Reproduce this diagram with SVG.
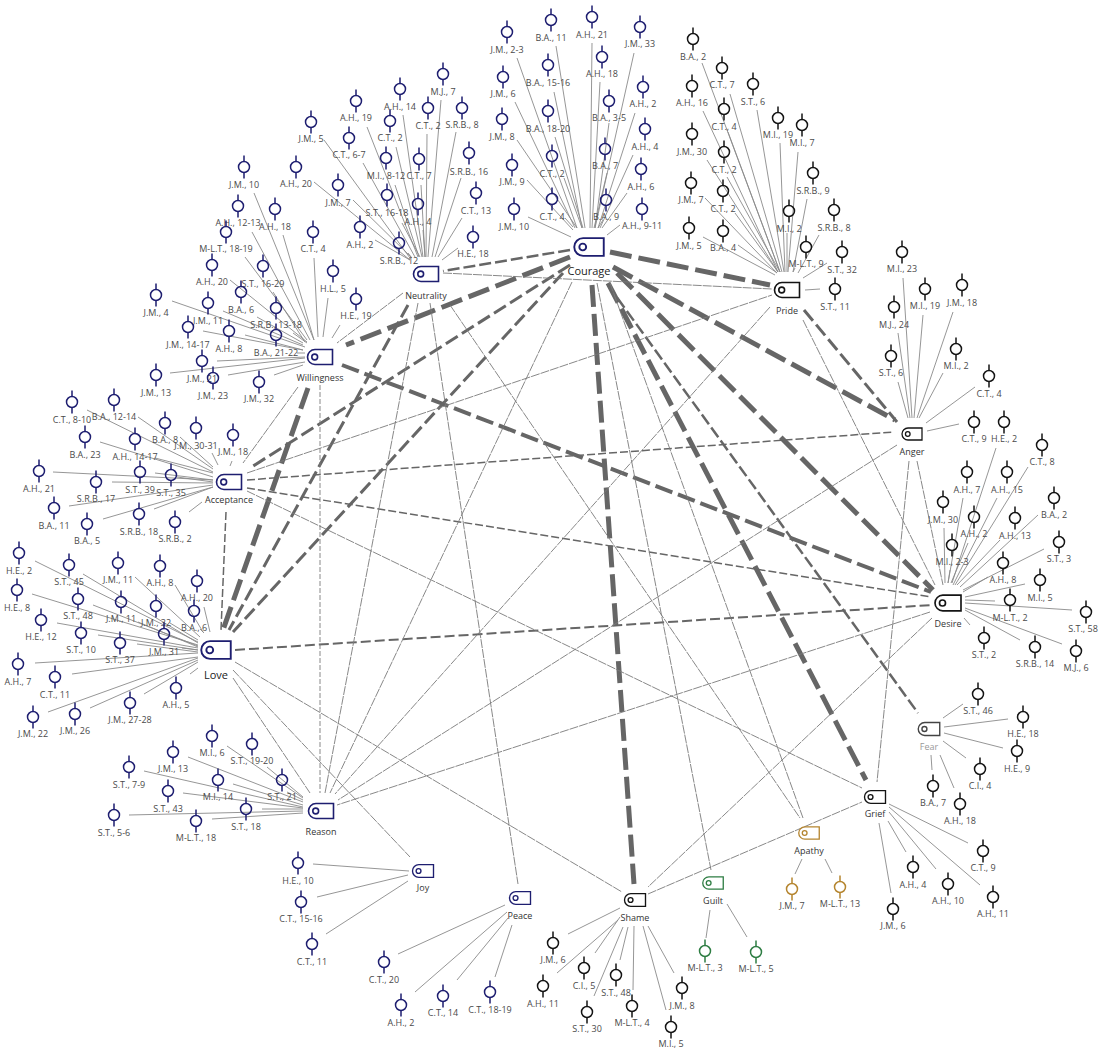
<svg xmlns="http://www.w3.org/2000/svg" width="1099" height="1050" viewBox="0 0 1099 1050">
<style>
text{font-family:"Open Sans","Noto Sans","Liberation Sans",sans-serif;text-anchor:middle;font-size:9px;fill:#4a4a4a}
.nl{fill:#333}
.big{font-size:11px;fill:#222}
.nv{color:#1e1e70}.bk{color:#141414}.or{color:#b5852f}.gr{color:#2e7d43}
#connectors line{stroke:#7a7a7a;fill:none}
#leaf-lines line{stroke:#8a8a8a;stroke-width:.9}
.w5{stroke-width:5;stroke-dasharray:22 7}
.w4{stroke-width:4;stroke-dasharray:18 6}
.w3{stroke-width:3;stroke-dasharray:14 5}
.w25{stroke-width:2.5;stroke-dasharray:12 4}
.w2{stroke-width:2;stroke-dasharray:10 4}
.w16{stroke-width:1.5;stroke-dasharray:8 3}
.w1{stroke-width:.9;stroke-dasharray:9 1}
#connectors .w5,#connectors .w4,#connectors .w3,#connectors .w25,#connectors .w2,#connectors .w16{stroke:#666}
</style>
<defs>
<g id="o" fill="none" stroke="currentColor" stroke-width="1.5"><circle r="5.5"/><path d="M0-11.5V-5.5M0 5.500V11.500"/></g>
<g id="t" fill="none" stroke="currentColor" stroke-width="1.6"><path d="M-5-7.500H12.500V7.500H-5A7.500 7.500 0 0 1-5-7.500Z"/><circle cx="-5.300" r="2.900"/></g>
</defs>
<rect width="1099" height="1050" fill="#fff"/>
<g id="connectors">
<g id="leaf-lines">
<line x1="87" y1="410" x2="213" y2="472"/><line x1="138" y1="417" x2="213" y2="469"/><line x1="180" y1="437" x2="213" y2="467"/><line x1="212" y1="453" x2="218" y2="465"/><line x1="232" y1="461" x2="230" y2="466"/><line x1="100" y1="442" x2="213" y2="477"/><line x1="155" y1="458" x2="213" y2="473"/><line x1="53" y1="472" x2="213" y2="480"/><line x1="155" y1="473" x2="213" y2="480"/><line x1="177" y1="477" x2="213" y2="482"/><line x1="112" y1="482" x2="213" y2="483"/><line x1="69" y1="506" x2="213" y2="485"/><line x1="154" y1="509" x2="213" y2="487"/><line x1="103" y1="519" x2="213" y2="487"/><line x1="189" y1="512" x2="202" y2="502"/>
<line x1="35" y1="561" x2="198" y2="642"/><line x1="83" y1="574" x2="198" y2="643"/><line x1="135" y1="577" x2="200" y2="637"/><line x1="175" y1="585" x2="203" y2="632"/><line x1="204" y1="607" x2="210" y2="632"/><line x1="32" y1="594" x2="198" y2="645"/><line x1="93" y1="605" x2="198" y2="646"/><line x1="138" y1="622" x2="198" y2="647"/><line x1="170" y1="623" x2="198" y2="640"/><line x1="200" y1="629" x2="204" y2="633"/><line x1="57" y1="623" x2="198" y2="648"/><line x1="98" y1="635" x2="198" y2="650"/><line x1="182" y1="648" x2="198" y2="650"/><line x1="137" y1="644" x2="198" y2="652"/><line x1="35" y1="663" x2="198" y2="653"/><line x1="72" y1="674" x2="198" y2="657"/><line x1="48" y1="712" x2="198" y2="658"/><line x1="90" y1="708" x2="198" y2="660"/><line x1="144" y1="694" x2="198" y2="662"/><line x1="190" y1="674" x2="198" y2="668"/>
<line x1="254" y1="193" x2="314" y2="340"/><line x1="252" y1="232" x2="310" y2="340"/><line x1="283" y1="235" x2="314" y2="340"/><line x1="245" y1="257" x2="307" y2="340"/><line x1="314" y1="258" x2="318" y2="337"/><line x1="328" y1="298" x2="323" y2="337"/><line x1="340" y1="325" x2="332" y2="338"/><line x1="230" y1="280" x2="307" y2="342"/><line x1="273" y1="292" x2="305" y2="342"/><line x1="257" y1="317" x2="303" y2="343"/><line x1="172" y1="301" x2="305" y2="347"/><line x1="223" y1="311" x2="303" y2="345"/><line x1="293" y1="333" x2="307" y2="343"/><line x1="203" y1="331" x2="303" y2="350"/><line x1="245" y1="335" x2="303" y2="350"/><line x1="297" y1="353" x2="305" y2="353"/><line x1="217" y1="361" x2="305" y2="357"/><line x1="170" y1="373" x2="305" y2="358"/><line x1="228" y1="375" x2="305" y2="362"/><line x1="274" y1="375" x2="303" y2="365"/>
<line x1="314" y1="182" x2="410" y2="260"/><line x1="324" y1="140" x2="410" y2="258"/><line x1="367" y1="127" x2="418" y2="257"/><line x1="403" y1="115" x2="423" y2="257"/><line x1="441" y1="100" x2="428" y2="257"/><line x1="427" y1="134" x2="426" y2="257"/><line x1="456" y1="132" x2="432" y2="257"/><line x1="396" y1="147" x2="422" y2="257"/><line x1="363" y1="163" x2="415" y2="257"/><line x1="461" y1="178" x2="435" y2="257"/><line x1="395" y1="185" x2="419" y2="257"/><line x1="421" y1="185" x2="425" y2="257"/><line x1="353" y1="200" x2="412" y2="258"/><line x1="462" y1="218" x2="438" y2="257"/><line x1="402" y1="223" x2="420" y2="257"/><line x1="423" y1="230" x2="425" y2="257"/><line x1="375" y1="240" x2="410" y2="260"/><line x1="458" y1="248" x2="442" y2="260"/><line x1="408" y1="253" x2="412" y2="258"/>
<line x1="517" y1="58" x2="577" y2="228"/><line x1="556" y1="46" x2="585" y2="228"/><line x1="592" y1="43" x2="590" y2="228"/><line x1="634" y1="53" x2="595" y2="228"/><line x1="554" y1="92" x2="582" y2="228"/><line x1="515" y1="102" x2="575" y2="228"/><line x1="600" y1="82" x2="592" y2="228"/><line x1="635" y1="113" x2="598" y2="228"/><line x1="609" y1="123" x2="595" y2="228"/><line x1="517" y1="140" x2="577" y2="228"/><line x1="555" y1="137" x2="583" y2="228"/><line x1="633" y1="155" x2="600" y2="228"/><line x1="607" y1="173" x2="594" y2="228"/><line x1="564" y1="178" x2="582" y2="228"/><line x1="527" y1="180" x2="573" y2="230"/><line x1="627" y1="193" x2="602" y2="228"/><line x1="565" y1="218" x2="573" y2="227"/><line x1="603" y1="220" x2="598" y2="228"/><line x1="620" y1="225" x2="607" y2="235"/><line x1="528" y1="217" x2="571" y2="237"/>
<line x1="702" y1="63" x2="780" y2="272"/><line x1="730" y1="94" x2="782" y2="272"/><line x1="757" y1="110" x2="784" y2="272"/><line x1="703" y1="111" x2="778" y2="272"/><line x1="728" y1="132" x2="780" y2="272"/><line x1="780" y1="143" x2="785" y2="272"/><line x1="798" y1="152" x2="788" y2="272"/><line x1="707" y1="160" x2="778" y2="272"/><line x1="727" y1="177" x2="780" y2="272"/><line x1="807" y1="199" x2="793" y2="272"/><line x1="705" y1="198" x2="777" y2="273"/><line x1="735" y1="213" x2="778" y2="272"/><line x1="787" y1="233" x2="787" y2="272"/><line x1="819" y1="235" x2="798" y2="273"/><line x1="703" y1="237" x2="775" y2="275"/><line x1="738" y1="245" x2="777" y2="273"/><line x1="795" y1="268" x2="793" y2="272"/><line x1="827" y1="263" x2="803" y2="278"/><line x1="820" y1="289" x2="805" y2="290"/>
<line x1="903" y1="278" x2="912" y2="418"/><line x1="923" y1="315" x2="914" y2="418"/><line x1="953" y1="312" x2="917" y2="418"/><line x1="898" y1="333" x2="910" y2="418"/><line x1="898" y1="382" x2="908" y2="418"/><line x1="943" y1="373" x2="919" y2="418"/><line x1="975" y1="387" x2="926" y2="423"/><line x1="959" y1="424" x2="927" y2="431"/>
<line x1="996" y1="448" x2="952" y2="583"/><line x1="1028" y1="467" x2="955" y2="585"/><line x1="963" y1="498" x2="948" y2="583"/><line x1="997" y1="498" x2="953" y2="585"/><line x1="944" y1="528" x2="945" y2="583"/><line x1="968" y1="543" x2="951" y2="583"/><line x1="1038" y1="515" x2="960" y2="587"/><line x1="1000" y1="540" x2="957" y2="585"/><line x1="1044" y1="549" x2="963" y2="590"/><line x1="950" y1="570" x2="948" y2="583"/><line x1="988" y1="577" x2="963" y2="592"/><line x1="1025" y1="584" x2="965" y2="597"/><line x1="995" y1="601" x2="965" y2="600"/><line x1="1072" y1="610" x2="965" y2="603"/><line x1="1062" y1="644" x2="965" y2="608"/><line x1="1020" y1="640" x2="965" y2="610"/><line x1="970" y1="625" x2="964" y2="618"/>
<line x1="963" y1="704" x2="943" y2="718"/><line x1="1008" y1="719" x2="944" y2="727"/><line x1="1003" y1="748" x2="944" y2="733"/><line x1="966" y1="758" x2="943" y2="741"/><line x1="932" y1="770" x2="931" y2="755"/><line x1="954" y1="788" x2="940" y2="755"/>
<line x1="968" y1="843" x2="889" y2="804"/><line x1="906" y1="852" x2="888" y2="821"/><line x1="936" y1="869" x2="889" y2="812"/><line x1="980" y1="885" x2="889" y2="807"/><line x1="891" y1="893" x2="879" y2="823"/>
<line x1="795" y1="874" x2="802" y2="859"/><line x1="832" y1="873" x2="825" y2="859"/><line x1="706" y1="938" x2="710" y2="910"/><line x1="747" y1="937" x2="727" y2="904"/>
<line x1="568" y1="934" x2="620" y2="908"/><line x1="595" y1="953" x2="620" y2="917"/><line x1="557" y1="973" x2="618" y2="920"/><line x1="620" y1="960" x2="628" y2="927"/><line x1="594" y1="996" x2="623" y2="927"/><line x1="633" y1="990" x2="634" y2="926"/><line x1="674" y1="973" x2="648" y2="926"/><line x1="666" y1="1010" x2="643" y2="926"/>
<line x1="398" y1="954" x2="505" y2="905"/><line x1="415" y1="992" x2="507" y2="912"/><line x1="457" y1="980" x2="508" y2="918"/><line x1="495" y1="977" x2="512" y2="925"/>
<line x1="313" y1="864" x2="409" y2="871"/><line x1="317" y1="897" x2="408" y2="875"/><line x1="326" y1="934" x2="408" y2="881"/>
<line x1="227" y1="746" x2="303" y2="798"/><line x1="267" y1="767" x2="303" y2="797"/><line x1="188" y1="757" x2="303" y2="802"/><line x1="144" y1="771" x2="303" y2="807"/><line x1="233" y1="784" x2="303" y2="805"/><line x1="287" y1="792" x2="303" y2="800"/><line x1="183" y1="793" x2="303" y2="808"/><line x1="262" y1="809" x2="303" y2="809"/><line x1="129" y1="815" x2="303" y2="811"/><line x1="212" y1="819" x2="303" y2="813"/>
</g>
<g id="edges">
<line class="w5" x1="570" y1="257" x2="346" y2="345"/><line class="w5" x1="610" y1="252" x2="770" y2="285"/><line class="w5" x1="613" y1="267" x2="895" y2="420"/><line class="w5" x1="617" y1="273" x2="933" y2="590"/><line class="w5" x1="592" y1="285" x2="634" y2="884"/><line class="w5" x1="608" y1="283" x2="866" y2="780"/><line class="w5" x1="308" y1="388" x2="223" y2="630"/><line class="w4" x1="342" y1="365" x2="931" y2="592"/><line class="w25" x1="570" y1="250" x2="443" y2="271"/><line class="w3" x1="570" y1="265" x2="250" y2="468"/><line class="w3" x1="563" y1="273" x2="233" y2="632"/><line class="w3" x1="408" y1="305" x2="229" y2="630"/><line class="w25" x1="608" y1="285" x2="918" y2="713"/><line class="w3" x1="804" y1="310" x2="897" y2="422"/><line class="w16" x1="247" y1="480" x2="893" y2="432"/><line class="w16" x1="247" y1="488" x2="931" y2="597"/><line class="w2" x1="235" y1="650" x2="932" y2="605"/><line class="w16" x1="226" y1="512" x2="221" y2="630"/>
<line class="w1" x1="403" y1="293" x2="337" y2="343"/><line class="w1" x1="443" y1="273" x2="772" y2="289"/><line class="w1" x1="298" y1="387" x2="243" y2="463"/><line class="w1" style="stroke-dasharray:5 2" x1="320" y1="385" x2="320" y2="793"/><line class="w1" x1="418" y1="303" x2="325" y2="793"/><line class="w1" x1="430" y1="303" x2="518" y2="884"/><line class="w1" x1="450" y1="305" x2="800" y2="818"/><line class="w1" x1="610" y1="283" x2="803" y2="818"/><line class="w1" x1="572" y1="282" x2="330" y2="793"/><line class="w1" x1="597" y1="283" x2="711" y2="870"/><line class="w1" x1="770" y1="307" x2="335" y2="794"/><line class="w1" x1="897" y1="445" x2="338" y2="800"/><line class="w1" x1="930" y1="612" x2="337" y2="805"/><line class="w1" x1="247" y1="473" x2="772" y2="295"/><line class="w1" x1="247" y1="491" x2="862" y2="788"/><line class="w1" x1="233" y1="678" x2="310" y2="793"/><line class="w1" x1="233" y1="670" x2="410" y2="857"/><line class="w1" x1="235" y1="662" x2="622" y2="892"/><line class="w1" x1="932" y1="618" x2="648" y2="887"/><line class="w1" x1="648" y1="894" x2="862" y2="802"/><line class="w1" x1="803" y1="320" x2="935" y2="585"/><line class="w1" x1="917" y1="461" x2="943" y2="585"/><line class="w1" x1="909" y1="461" x2="877" y2="782"/>
</g>
</g>
<g id="node-acceptance" class="nv" transform="translate(229,482)"><use href="#t"/><text class="nl" y="21">Acceptance</text></g>
<g id="node-love" class="nv" transform="translate(216,650)"><use href="#t" transform="scale(1.18)"/><text class="nl big" x="0" y="29">Love</text></g>
<g id="node-courage" class="nv" transform="translate(589,247)"><use href="#t" transform="scale(1.18)"/><text class="nl big" y="28">Courage</text></g>
<g id="node-neutrality" class="nv" transform="translate(426,274)"><use href="#t"/><text class="nl" y="25">Neutrality</text></g>
<g id="node-willingness" class="nv" transform="translate(320,357)"><use href="#t"/><text class="nl" y="24">Willingness</text></g>
<g id="node-reason" class="nv" transform="translate(321,811)"><use href="#t"/><text class="nl" y="24">Reason</text></g>
<g id="node-joy" class="nv" transform="translate(423,871)"><use href="#t" transform="scale(.84)"/><text class="nl" y="20">Joy</text></g>
<g id="node-peace" class="nv" transform="translate(520,898)"><use href="#t" transform="scale(.84)"/><text class="nl" y="21">Peace</text></g>
<g id="node-pride" class="bk" transform="translate(787,290)"><use href="#t"/><text class="nl" y="24">Pride</text></g>
<g id="node-anger" class="bk" transform="translate(912,434)"><use href="#t" transform="scale(.8)"/><text class="nl" y="21">Anger</text></g>
<g id="node-desire" class="bk" transform="translate(948,603)"><use href="#t" transform="scale(1.04)"/><text class="nl" y="24">Desire</text></g>
<g id="node-fear" style="color:#444" transform="translate(929,729)"><use href="#t" transform="scale(.86)"/><text style="fill:#999" y="21">Fear</text></g>
<g id="node-grief" class="bk" transform="translate(875,797)"><use href="#t" transform="scale(.84)"/><text class="nl" y="20">Grief</text></g>
<g id="node-shame" class="bk" transform="translate(635,900)"><use href="#t" transform="scale(.84)"/><text class="nl" y="21">Shame</text></g>
<g id="node-apathy" class="or" transform="translate(809,833)"><use href="#t" transform="scale(.82)"/><text class="nl" y="21">Apathy</text></g>
<g id="node-guilt" class="gr" transform="translate(713,883)"><use href="#t" transform="scale(.82)"/><text class="nl" y="21">Guilt</text></g>
<g id="acceptance-leaves" class="nv">
<g id="ac1" transform="translate(72,402)"><use href="#o"/><text y="21">C.T., 8-10</text></g>
<g id="ac2" transform="translate(114,400)"><use href="#o"/><text y="20">B.A., 12-14</text></g>
<g id="ac3" transform="translate(165,423)"><use href="#o"/><text y="20">B.A., 8</text></g>
<g id="ac4" transform="translate(196,428)"><use href="#o"/><text y="21">J.M., 30-31</text></g>
<g id="ac5" transform="translate(233,435)"><use href="#o"/><text y="20">J.M., 18</text></g>
<g id="ac6" transform="translate(85,437)"><use href="#o"/><text y="21">B.A., 23</text></g>
<g id="ac7" transform="translate(135,439)"><use href="#o"/><text y="21">A.H., 14-17</text></g>
<g id="ac8" transform="translate(39,471)"><use href="#o"/><text y="21">A.H., 21</text></g>
<g id="ac9" transform="translate(140,472)"><use href="#o"/><text y="21">S.T., 39</text></g>
<g id="ac10" transform="translate(171,475)"><use href="#o"/><text y="21">S.T., 35</text></g>
<g id="ac11" transform="translate(96,482)"><use href="#o"/><text y="20">S.R.B., 17</text></g>
<g id="ac12" transform="translate(54,508)"><use href="#o"/><text y="21">B.A., 11</text></g>
<g id="ac13" transform="translate(139,514)"><use href="#o"/><text y="21">S.R.B., 18</text></g>
<g id="ac14" transform="translate(87,524)"><use href="#o"/><text y="20">B.A., 5</text></g>
<g id="ac15" transform="translate(175,522)"><use href="#o"/><text y="20">S.R.B., 2</text></g>
</g>
<g id="love-leaves" class="nv">
<g id="lo1" transform="translate(19,553)"><use href="#o"/><text y="21">H.E., 2</text></g>
<g id="lo2" transform="translate(69,565)"><use href="#o"/><text y="20">S.T., 45</text></g>
<g id="lo3" transform="translate(118,563)"><use href="#o"/><text y="20">J.M., 11</text></g>
<g id="lo4" transform="translate(160,566)"><use href="#o"/><text y="20">A.H., 8</text></g>
<g id="lo5" transform="translate(197,581)"><use href="#o"/><text y="20">A.H., 20</text></g>
<g id="lo6" transform="translate(17,590)"><use href="#o"/><text y="21">H.E., 8</text></g>
<g id="lo7" transform="translate(78,599)"><use href="#o"/><text y="20">S.T., 48</text></g>
<g id="lo8" transform="translate(121,602)"><use href="#o"/><text y="20">J.M., 11</text></g>
<g id="lo9" transform="translate(156,606)"><use href="#o"/><text y="20">J.M., 32</text></g>
<g id="lo10" transform="translate(194,611)"><use href="#o"/><text y="20">B.A., 6</text></g>
<g id="lo11" transform="translate(41,620)"><use href="#o"/><text y="20">H.E., 12</text></g>
<g id="lo12" transform="translate(81,633)"><use href="#o"/><text y="20">S.T., 10</text></g>
<g id="lo13" transform="translate(164,634)"><use href="#o"/><text y="21">J.M., 31</text></g>
<g id="lo14" transform="translate(120,643)"><use href="#o"/><text y="20">S.T., 37</text></g>
<g id="lo15" transform="translate(18,664)"><use href="#o"/><text y="21">A.H., 7</text></g>
<g id="lo16" transform="translate(55,677)"><use href="#o"/><text y="21">C.T., 11</text></g>
<g id="lo17" transform="translate(33,717)"><use href="#o"/><text y="20">J.M., 22</text></g>
<g id="lo18" transform="translate(75,714)"><use href="#o"/><text y="20">J.M., 26</text></g>
<g id="lo19" transform="translate(130,703)"><use href="#o"/><text y="20">J.M., 27-28</text></g>
<g id="lo20" transform="translate(176,688)"><use href="#o"/><text y="20">A.H., 5</text></g>
</g>
<g id="willingness-leaves" class="nv">
<g id="wi1" transform="translate(244,167)"><use href="#o"/><text y="21">J.M., 10</text></g>
<g id="wi2" transform="translate(238,206)"><use href="#o"/><text y="20">A.H., 12-13</text></g>
<g id="wi3" transform="translate(275,209)"><use href="#o"/><text y="21">A.H., 18</text></g>
<g id="wi4" transform="translate(226,232)"><use href="#o"/><text y="20">M-L.T., 18-19</text></g>
<g id="wi5" transform="translate(313,232)"><use href="#o"/><text y="20">C.T., 4</text></g>
<g id="wi6" transform="translate(333,271)"><use href="#o"/><text y="21">H.L., 5</text></g>
<g id="wi7" transform="translate(356,299)"><use href="#o"/><text y="20">H.E., 19</text></g>
<g id="wi8" transform="translate(212,265)"><use href="#o"/><text y="20">A.H., 20</text></g>
<g id="wi9" transform="translate(263,266)"><use href="#o"/><text y="21">S.T., 16-29</text></g>
<g id="wi10" transform="translate(241,292)"><use href="#o"/><text y="21">B.A., 6</text></g>
<g id="wi11" transform="translate(156,295)"><use href="#o"/><text y="21">J.M., 4</text></g>
<g id="wi12" transform="translate(208,303)"><use href="#o"/><text y="21">J.M., 11</text></g>
<g id="wi13" transform="translate(276,308)"><use href="#o"/><text y="20">S.R.B., 13-18</text></g>
<g id="wi14" transform="translate(188,327)"><use href="#o"/><text y="21">J.M., 14-17</text></g>
<g id="wi15" transform="translate(229,331)"><use href="#o"/><text y="21">A.H., 8</text></g>
<g id="wi16" transform="translate(276,335)"><use href="#o"/><text y="21">B.A., 21-22</text></g>
<g id="wi17" transform="translate(202,361)"><use href="#o"/><text y="21">J.M., 21</text></g>
<g id="wi18" transform="translate(156,375)"><use href="#o"/><text y="21">J.M., 13</text></g>
<g id="wi19" transform="translate(213,378)"><use href="#o"/><text y="21">J.M., 23</text></g>
<g id="wi20" transform="translate(259,382)"><use href="#o"/><text y="20">J.M., 32</text></g>
</g>
<g id="neutrality-leaves" class="nv">
<g id="ne1" transform="translate(296,167)"><use href="#o"/><text y="20">A.H., 20</text></g>
<g id="ne2" transform="translate(311,122)"><use href="#o"/><text y="20">J.M., 5</text></g>
<g id="ne3" transform="translate(356,101)"><use href="#o"/><text y="20">A.H., 19</text></g>
<g id="ne4" transform="translate(400,89)"><use href="#o"/><text y="21">A.H., 14</text></g>
<g id="ne5" transform="translate(443,74)"><use href="#o"/><text y="21">M.J., 7</text></g>
<g id="ne6" transform="translate(428,108)"><use href="#o"/><text y="21">C.T., 2</text></g>
<g id="ne7" transform="translate(462,108)"><use href="#o"/><text y="20">S.R.B., 8</text></g>
<g id="ne8" transform="translate(390,121)"><use href="#o"/><text y="20">C.T., 2</text></g>
<g id="ne9" transform="translate(349,138)"><use href="#o"/><text y="20">C.T., 6-7</text></g>
<g id="ne10" transform="translate(469,153)"><use href="#o"/><text y="22">S.R.B., 16</text></g>
<g id="ne11" transform="translate(386,158)"><use href="#o"/><text y="21">M.I., 8-12</text></g>
<g id="ne12" transform="translate(419,159)"><use href="#o"/><text y="20">C.T., 7</text></g>
<g id="ne13" transform="translate(338,185)"><use href="#o"/><text y="21">J.M., 7</text></g>
<g id="ne14" transform="translate(476,193)"><use href="#o"/><text y="21">C.T., 13</text></g>
<g id="ne15" transform="translate(387,195)"><use href="#o"/><text y="21">S.T., 16-18</text></g>
<g id="ne16" transform="translate(418,204)"><use href="#o"/><text y="21">A.H., 4</text></g>
<g id="ne17" transform="translate(360,227)"><use href="#o"/><text y="21">A.H., 2</text></g>
<g id="ne18" transform="translate(473,237)"><use href="#o"/><text y="20">H.E., 18</text></g>
<g id="ne19" transform="translate(399,243)"><use href="#o"/><text y="21">S.R.B., 12</text></g>
</g>
<g id="courage-leaves" class="nv">
<g id="co1" transform="translate(507,32)"><use href="#o"/><text y="21">J.M., 2-3</text></g>
<g id="co2" transform="translate(551,20)"><use href="#o"/><text y="21">B.A., 11</text></g>
<g id="co3" transform="translate(592,17)"><use href="#o"/><text y="21">A.H., 21</text></g>
<g id="co4" transform="translate(640,27)"><use href="#o"/><text y="20">J.M., 33</text></g>
<g id="co5" transform="translate(548,65)"><use href="#o"/><text y="21">B.A., 15-16</text></g>
<g id="co6" transform="translate(503,77)"><use href="#o"/><text y="20">J.M., 6</text></g>
<g id="co7" transform="translate(602,57)"><use href="#o"/><text y="20">A.H., 18</text></g>
<g id="co8" transform="translate(643,87)"><use href="#o"/><text y="20">A.H., 2</text></g>
<g id="co9" transform="translate(609,101)"><use href="#o"/><text y="20">B.A., 3-5</text></g>
<g id="co10" transform="translate(502,119)"><use href="#o"/><text y="21">J.M., 8</text></g>
<g id="co11" transform="translate(548,111)"><use href="#o"/><text y="21">B.A., 18-20</text></g>
<g id="co12" transform="translate(645,129)"><use href="#o"/><text y="21">A.H., 4</text></g>
<g id="co13" transform="translate(605,149)"><use href="#o"/><text y="20">B.A., 7</text></g>
<g id="co14" transform="translate(552,156)"><use href="#o"/><text y="21">C.T., 2</text></g>
<g id="co15" transform="translate(512,165)"><use href="#o"/><text y="20">J.M., 9</text></g>
<g id="co16" transform="translate(641,169)"><use href="#o"/><text y="21">A.H., 6</text></g>
<g id="co17" transform="translate(552,199)"><use href="#o"/><text y="21">C.T., 4</text></g>
<g id="co18" transform="translate(606,200)"><use href="#o"/><text y="20">B.A., 9</text></g>
<g id="co19" transform="translate(642,209)"><use href="#o"/><text y="20">A.H., 9-11</text></g>
<g id="co20" transform="translate(514,209)"><use href="#o"/><text y="21">J.M., 10</text></g>
</g>
<g id="reason-leaves" class="nv">
<g id="re1" transform="translate(212,736)"><use href="#o"/><text y="20">M.I., 6</text></g>
<g id="re2" transform="translate(252,744)"><use href="#o"/><text y="20">S.T., 19-20</text></g>
<g id="re3" transform="translate(173,752)"><use href="#o"/><text y="20">J.M., 13</text></g>
<g id="re4" transform="translate(129,767)"><use href="#o"/><text y="21">S.T., 7-9</text></g>
<g id="re5" transform="translate(218,780)"><use href="#o"/><text y="20">M.I., 14</text></g>
<g id="re6" transform="translate(282,780)"><use href="#o"/><text y="20">S.T., 21</text></g>
<g id="re7" transform="translate(168,791)"><use href="#o"/><text y="21">S.T., 43</text></g>
<g id="re8" transform="translate(246,809)"><use href="#o"/><text y="21">S.T., 18</text></g>
<g id="re9" transform="translate(114,815)"><use href="#o"/><text y="21">S.T., 5-6</text></g>
<g id="re10" transform="translate(196,821)"><use href="#o"/><text y="20">M-L.T., 18</text></g>
</g>
<g id="joy-leaves" class="nv">
<g id="jo1" transform="translate(298,863)"><use href="#o"/><text y="21">H.E., 10</text></g>
<g id="jo2" transform="translate(301,902)"><use href="#o"/><text y="20">C.T., 15-16</text></g>
<g id="jo3" transform="translate(312,944)"><use href="#o"/><text y="21">C.T., 11</text></g>
</g>
<g id="peace-leaves" class="nv">
<g id="pe1" transform="translate(384,962)"><use href="#o"/><text y="21">C.T., 20</text></g>
<g id="pe2" transform="translate(401,1005)"><use href="#o"/><text y="21">A.H., 2</text></g>
<g id="pe3" transform="translate(443,996)"><use href="#o"/><text y="20">C.T., 14</text></g>
<g id="pe4" transform="translate(490,992)"><use href="#o"/><text y="21">C.T., 18-19</text></g>
</g>
<g id="pride-leaves" class="bk">
<g id="pr1" transform="translate(693,39)"><use href="#o"/><text y="21">B.A., 2</text></g>
<g id="pr2" transform="translate(722,68)"><use href="#o"/><text y="20">C.T., 7</text></g>
<g id="pr3" transform="translate(753,84)"><use href="#o"/><text y="21">S.T., 6</text></g>
<g id="pr4" transform="translate(692,86)"><use href="#o"/><text y="20">A.H., 16</text></g>
<g id="pr5" transform="translate(724,109)"><use href="#o"/><text y="21">C.T., 4</text></g>
<g id="pr6" transform="translate(778,118)"><use href="#o"/><text y="20">M.I., 19</text></g>
<g id="pr7" transform="translate(802,125)"><use href="#o"/><text y="21">M.I., 7</text></g>
<g id="pr8" transform="translate(692,134)"><use href="#o"/><text y="21">J.M., 30</text></g>
<g id="pr9" transform="translate(724,152)"><use href="#o"/><text y="21">C.T., 2</text></g>
<g id="pr10" transform="translate(813,173)"><use href="#o"/><text y="21">S.R.B., 9</text></g>
<g id="pr11" transform="translate(691,183)"><use href="#o"/><text y="20">J.M., 7</text></g>
<g id="pr12" transform="translate(723,191)"><use href="#o"/><text y="21">C.T., 2</text></g>
<g id="pr13" transform="translate(789,211)"><use href="#o"/><text y="21">M.I., 2</text></g>
<g id="pr14" transform="translate(834,210)"><use href="#o"/><text y="21">S.R.B., 8</text></g>
<g id="pr15" transform="translate(689,228)"><use href="#o"/><text y="21">J.M., 5</text></g>
<g id="pr16" transform="translate(723,231)"><use href="#o"/><text y="20">B.A., 4</text></g>
<g id="pr17" transform="translate(806,247)"><use href="#o"/><text y="20">M-L.T., 9</text></g>
<g id="pr18" transform="translate(842,252)"><use href="#o"/><text y="21">S.T., 32</text></g>
<g id="pr19" transform="translate(835,289)"><use href="#o"/><text y="21">S.T., 11</text></g>
</g>
<g id="anger-leaves" class="bk">
<g id="an1" transform="translate(902,252)"><use href="#o"/><text y="20">M.I., 23</text></g>
<g id="an2" transform="translate(925,289)"><use href="#o"/><text y="20">M.I., 19</text></g>
<g id="an3" transform="translate(962,285)"><use href="#o"/><text y="21">J.M., 18</text></g>
<g id="an4" transform="translate(894,307)"><use href="#o"/><text y="21">M.J., 24</text></g>
<g id="an5" transform="translate(891,356)"><use href="#o"/><text y="20">S.T., 6</text></g>
<g id="an6" transform="translate(956,349)"><use href="#o"/><text y="20">M.I., 2</text></g>
<g id="an7" transform="translate(989,376)"><use href="#o"/><text y="21">C.T., 4</text></g>
<g id="an8" transform="translate(974,422)"><use href="#o"/><text y="20">C.T., 9</text></g>
</g>
<g id="desire-leaves" class="bk">
<g id="de1" transform="translate(1004,422)"><use href="#o"/><text y="20">H.E., 2</text></g>
<g id="de2" transform="translate(1042,445)"><use href="#o"/><text y="20">C.T., 8</text></g>
<g id="de3" transform="translate(967,472)"><use href="#o"/><text y="21">A.H., 7</text></g>
<g id="de4" transform="translate(1007,472)"><use href="#o"/><text y="21">A.H., 15</text></g>
<g id="de5" transform="translate(943,502)"><use href="#o"/><text y="21">J.M., 30</text></g>
<g id="de6" transform="translate(974,517)"><use href="#o"/><text y="20">A.H., 2</text></g>
<g id="de7" transform="translate(1054,498)"><use href="#o"/><text y="20">B.A., 2</text></g>
<g id="de8" transform="translate(1015,518)"><use href="#o"/><text y="21">A.H., 13</text></g>
<g id="de9" transform="translate(1059,542)"><use href="#o"/><text y="20">S.T., 3</text></g>
<g id="de10" transform="translate(952,545)"><use href="#o"/><text y="20">M.I., 2-3</text></g>
<g id="de11" transform="translate(1003,563)"><use href="#o"/><text y="20">A.H., 8</text></g>
<g id="de12" transform="translate(1040,580)"><use href="#o"/><text y="21">M.I., 5</text></g>
<g id="de13" transform="translate(1010,600)"><use href="#o"/><text y="21">M-L.T., 2</text></g>
<g id="de14" transform="translate(1086,612)"><use href="#o"/><text x="-3" y="20">S.T., 58</text></g>
<g id="de15" transform="translate(1076,651)"><use href="#o"/><text y="20">M.J., 6</text></g>
<g id="de16" transform="translate(1035,647)"><use href="#o"/><text y="20">S.R.B., 14</text></g>
<g id="de17" transform="translate(984,638)"><use href="#o"/><text y="20">S.T., 2</text></g>
</g>
<g id="fear-leaves" class="bk">
<g id="fe1" transform="translate(978,694)"><use href="#o"/><text y="20">S.T., 46</text></g>
<g id="fe2" transform="translate(1023,717)"><use href="#o"/><text y="20">H.E., 18</text></g>
<g id="fe3" transform="translate(1017,751)"><use href="#o"/><text y="21">H.E., 9</text></g>
<g id="fe4" transform="translate(980,769)"><use href="#o"/><text y="20">C.I., 4</text></g>
<g id="fe5" transform="translate(933,786)"><use href="#o"/><text y="20">B.A., 7</text></g>
<g id="fe6" transform="translate(960,804)"><use href="#o"/><text y="20">A.H., 18</text></g>
</g>
<g id="grief-leaves" class="bk">
<g id="gf1" transform="translate(983,851)"><use href="#o"/><text y="20">C.T., 9</text></g>
<g id="gf2" transform="translate(913,867)"><use href="#o"/><text y="21">A.H., 4</text></g>
<g id="gf3" transform="translate(948,884)"><use href="#o"/><text y="20">A.H., 10</text></g>
<g id="gf4" transform="translate(993,897)"><use href="#o"/><text y="20">A.H., 11</text></g>
<g id="gf5" transform="translate(893,909)"><use href="#o"/><text y="20">J.M., 6</text></g>
</g>
<g id="apathy-leaves" class="or">
<g id="ap1" transform="translate(792,889)"><use href="#o"/><text y="20">J.M., 7</text></g>
<g id="ap2" transform="translate(840,887)"><use href="#o"/><text y="20">M-L.T., 13</text></g>
</g>
<g id="guilt-leaves" class="gr">
<g id="gu1" transform="translate(705,951)"><use href="#o"/><text y="20">M-L.T., 3</text></g>
<g id="gu2" transform="translate(756,952)"><use href="#o"/><text y="20">M-L.T., 5</text></g>
</g>
<g id="shame-leaves" class="bk">
<g id="sh1" transform="translate(553,943)"><use href="#o"/><text y="20">J.M., 6</text></g>
<g id="sh2" transform="translate(584,968)"><use href="#o"/><text y="21">C.I., 5</text></g>
<g id="sh3" transform="translate(543,986)"><use href="#o"/><text y="21">A.H., 11</text></g>
<g id="sh4" transform="translate(616,975)"><use href="#o"/><text y="21">S.T., 48</text></g>
<g id="sh5" transform="translate(587,1012)"><use href="#o"/><text y="20">S.T., 30</text></g>
<g id="sh6" transform="translate(632,1006)"><use href="#o"/><text y="20">M-L.T., 4</text></g>
<g id="sh7" transform="translate(682,988)"><use href="#o"/><text y="21">J.M., 8</text></g>
<g id="sh8" transform="translate(671,1027)"><use href="#o"/><text y="20">M.I., 5</text></g>
</g>
</svg>
